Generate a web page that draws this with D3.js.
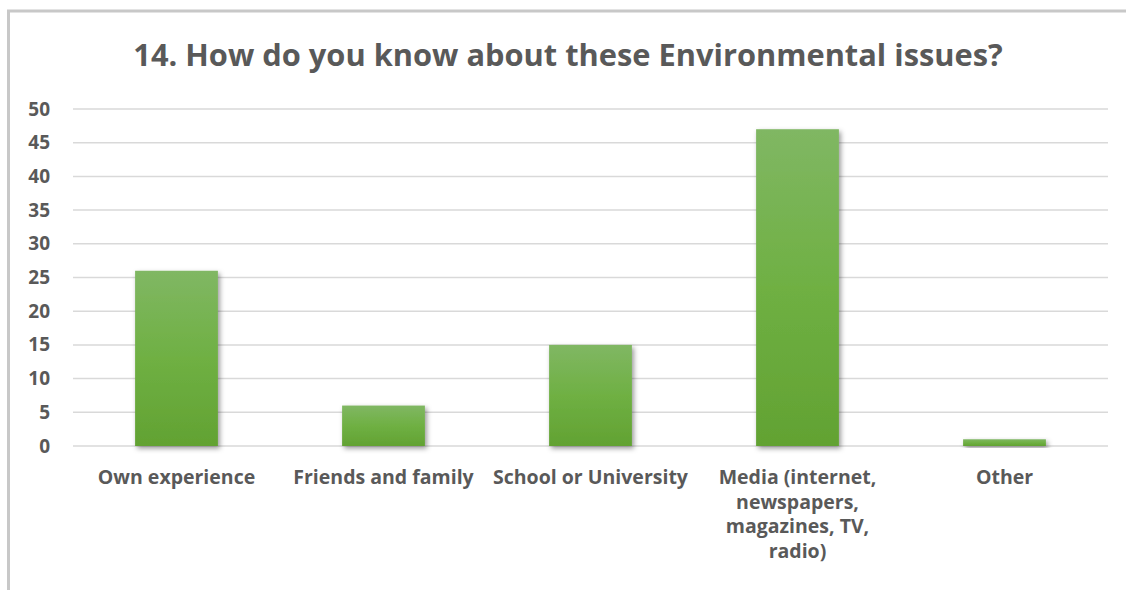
<!DOCTYPE html>
<html>
<head>
<meta charset="utf-8">
<script src="https://cdn.jsdelivr.net/npm/d3@7"></script>
<style>
  html, body { margin: 0; padding: 0; background: #fff; }
  svg { display: block; }
  text { font-family: "Open Sans", sans-serif; font-weight: bold; fill: #595959; }
</style>
</head>
<body>
<svg id="chart" width="1126" height="590"></svg>
<script>
const titleText = "14. How do you know about these Environmental issues?";
const categories = ["Own experience", "Friends and family", "School or University", "Media (internet, newspapers, magazines, TV, radio)", "Other"];
const values = [26, 6, 15, 47, 1];
const yTicks = [0, 5, 10, 15, 20, 25, 30, 35, 40, 45, 50];

const W = 1126, H = 590;
const margin = { left: 73, right: 18, top: 109, bottom: 144 };
const svg = d3.select("#chart");

const defs = svg.append("defs");
const grad = defs.append("linearGradient").attr("id", "barFill")
  .attr("x1", 0).attr("y1", 0).attr("x2", 0).attr("y2", 1);
grad.append("stop").attr("offset", "0%").attr("stop-color", "#80b763");
grad.append("stop").attr("offset", "50%").attr("stop-color", "#6fb043");
grad.append("stop").attr("offset", "100%").attr("stop-color", "#62a232");

const shadow = defs.append("filter").attr("id", "shadow")
  .attr("x", "-20%").attr("y", "-20%").attr("width", "140%").attr("height", "140%");
shadow.append("feDropShadow").attr("dx", 2).attr("dy", 2.5).attr("stdDeviation", 2.5)
  .attr("flood-color", "#000").attr("flood-opacity", 0.4);

// chart frame: left and top edges
svg.append("line").attr("x1", 8.5).attr("x2", 8.5).attr("y1", 10).attr("y2", H)
  .attr("stroke", "#c8c8c8").attr("stroke-width", 3);
svg.append("line").attr("x1", 7).attr("x2", W).attr("y1", 11).attr("y2", 11)
  .attr("stroke", "#c8c8c8").attr("stroke-width", 3);

const x = d3.scaleBand().domain(categories)
  .range([margin.left, W - margin.right]).paddingInner(0.6).paddingOuter(0.3);
const y = d3.scaleLinear().domain([0, 50]).range([H - margin.bottom, margin.top]);

// gridlines
svg.append("g").selectAll("line").data(yTicks).join("line")
  .attr("x1", margin.left).attr("x2", W - margin.right)
  .attr("y1", d => y(d)).attr("y2", d => y(d))
  .attr("stroke", "#d9d9d9").attr("stroke-width", 1.5);

// y axis labels
const yAxis = d3.axisLeft(y).tickValues(yTicks).tickSize(0).tickPadding(23);
const gy = svg.append("g").attr("transform", `translate(${margin.left},0)`).call(yAxis);
gy.select(".domain").remove();
gy.selectAll("text").attr("font-size", 19).attr("fill", "#595959")
  .style("font-family", "'Open Sans', sans-serif").style("font-weight", "bold");

// bars
svg.append("g").selectAll("rect").data(values).join("rect")
  .attr("x", (d, i) => x(categories[i]))
  .attr("width", x.bandwidth())
  .attr("y", d => y(d))
  .attr("height", d => y(0) - y(d))
  .attr("fill", "url(#barFill)")
  .attr("filter", "url(#shadow)");

// category labels, wrapped to a fixed width
const wrapWidth = 202;
const labelSize = 19.5;
const lineStep = 24.6;
const gx = svg.append("g");
categories.forEach(c => {
  const cx = x(c) + x.bandwidth() / 2;
  const t = gx.append("text").attr("text-anchor", "middle")
    .attr("font-size", labelSize)
    .attr("x", cx).attr("y", y(0) + 38);
  const words = c.split(" ");
  let line = [];
  let ts = t.append("tspan").attr("x", cx).attr("dy", 0);
  words.forEach(w => {
    line.push(w);
    ts.text(line.join(" "));
    if (ts.node().getComputedTextLength() > wrapWidth && line.length > 1) {
      line.pop();
      ts.text(line.join(" "));
      line = [w];
      ts = t.append("tspan").attr("x", cx).attr("dy", lineStep).text(w);
    }
  });
});

// title, sized to span its measured width
const title = svg.append("text").attr("text-anchor", "middle")
  .attr("x", 568).attr("y", 66)
  .attr("font-size", 30)
  .text(titleText);
const tw = title.node().getComputedTextLength();
title.attr("font-size", 30 * 870 / tw);
</script>
</body>
</html>
